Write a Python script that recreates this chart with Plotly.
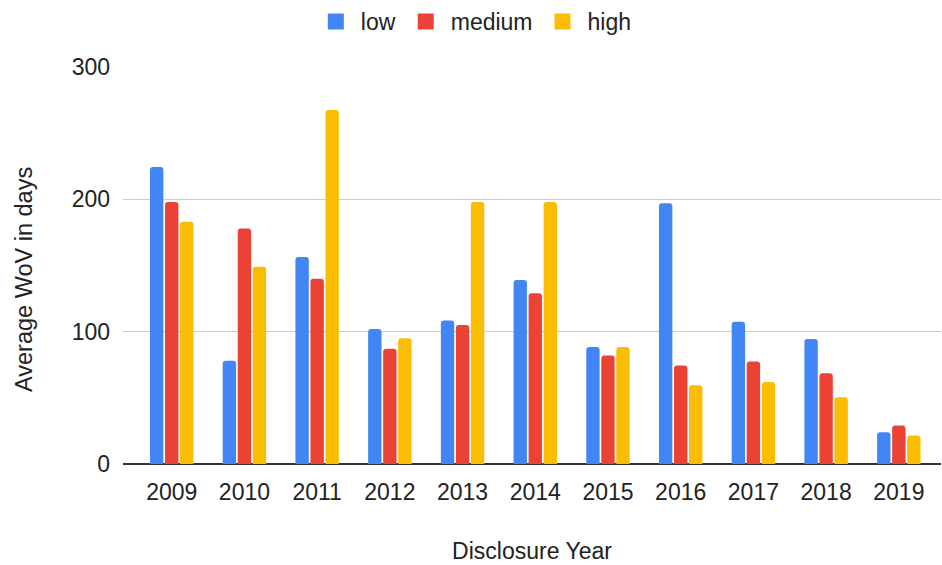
import plotly.graph_objects as go

years = ["2009", "2010", "2011", "2012", "2013", "2014", "2015", "2016", "2017", "2018", "2019"]
low = [224.5, 78, 156.5, 102, 108.5, 139, 88.5, 197, 107.5, 94.5, 24]
medium = [198, 178, 140, 87, 105, 129, 82, 74.5, 77.5, 68.5, 29]
high = [183, 149, 267.5, 95, 198, 198, 88.5, 59.5, 62, 50.5, 21.5]

series = [("low", low, "#4285F4"), ("medium", medium, "#EA4335"), ("high", high, "#FBBC04")]

font = "Liberation Sans, Arial, sans-serif"
fsize = 23
text_color = "#222222"

fig = go.Figure()
for name, vals, color in series:
    fig.add_trace(go.Bar(x=years, y=vals, name=name, marker_color=color,
                         marker_line_width=0, showlegend=False, legendgroup=name))
# larger square swatches for the legend
for name, vals, color in series:
    fig.add_trace(go.Scatter(x=[None], y=[None], mode="markers", name=name,
                             legendgroup=name,
                             marker=dict(symbol="square", size=20, color=color)))

fig.update_layout(
    width=942, height=565,
    margin=dict(l=123, r=1, t=67, b=101),
    paper_bgcolor="white", plot_bgcolor="white",
    barmode="group", bargap=0.38, bargroupgap=0.11, barcornerradius=3,
    font=dict(family=font, size=fsize, color=text_color),
    legend=dict(orientation="h", xref="container", x=0.503, xanchor="center",
                yref="container", y=1.0, yanchor="top", itemsizing="trace",
                font=dict(size=fsize, color=text_color), itemwidth=40),
    xaxis=dict(type="category", range=[-0.67, 10.58], showgrid=False,
               ticks="", ticklabelstandoff=12,
               title=dict(text="Disclosure Year", standoff=38,
                          font=dict(size=fsize, color=text_color))),
    yaxis=dict(range=[0, 300], tickvals=[0, 100, 200, 300],
               gridcolor="#cccccc", gridwidth=1,
               zeroline=True, zerolinecolor="#333333", zerolinewidth=1.5,
               ticks="", ticklabelstandoff=12),
    annotations=[dict(text="Average WoV in days", textangle=-90,
                      xref="paper", x=0, xanchor="center", xshift=-99,
                      yref="paper", y=0.4635, yanchor="middle",
                      showarrow=False, font=dict(size=23.5, color=text_color))],
)

fig.write_html("out.html")
